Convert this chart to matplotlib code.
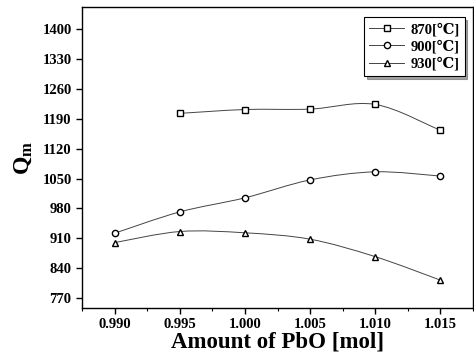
import numpy as np
import matplotlib
matplotlib.use("Agg")
import matplotlib.pyplot as plt
from matplotlib.path import Path
from matplotlib.patches import PathPatch
from matplotlib.lines import Line2D

plt.rcParams['font.family'] = ['Liberation Serif', 'DejaVu Serif']
plt.rcParams['font.weight'] = 'bold'
plt.rcParams['mathtext.fontset'] = 'custom'
plt.rcParams['mathtext.rm'] = 'Liberation Serif:bold'
plt.rcParams['mathtext.bf'] = 'Liberation Serif:bold'

pbo = [0.990, 0.995, 1.000, 1.005, 1.010, 1.015]
x870 = pbo[1:]
q870 = [1203, 1212, 1213, 1224, 1163]
q900 = [922, 972, 1005, 1047, 1066, 1056]
q930 = [900, 926, 923, 908, 867, 812]
labels = ["870[℃]", "900[℃]", "930[℃]"]
markers = ["s", "o", "^"]


def smooth_path(xs, ys):
    # Catmull-Rom -> cubic Bezier through the data points
    p = np.column_stack([xs, ys]).astype(float)
    verts = [p[0]]
    codes = [Path.MOVETO]
    n = len(p)
    for i in range(n - 1):
        p0 = p[i - 1] if i > 0 else p[i]
        p1, p2 = p[i], p[i + 1]
        p3 = p[i + 2] if i + 2 < n else p[i + 1]
        c1 = p1 + (p2 - p0) / 6.0
        c2 = p2 - (p3 - p1) / 6.0
        verts += [c1, c2, p2]
        codes += [Path.CURVE4] * 3
    return Path(verts, codes)


fig = plt.figure(figsize=(4.74, 3.58), dpi=100)
ax = fig.add_axes([0.173, 0.14, 0.825, 0.84])

handles = []
for xs, ys, lab, m in zip([x870, pbo, pbo], [q870, q900, q930], labels, markers):
    ax.add_patch(PathPatch(smooth_path(xs, ys), fc="none", ec="#444444", lw=0.7))
    ax.plot(xs, ys, ls="none", marker=m, ms=4.5, mfc="white", mec="black", mew=1.0, zorder=3)
    handles.append(Line2D([], [], color="#444444", lw=0.7, marker=m, ms=4.5,
                          mfc="white", mec="black", mew=1.0))

ax.set_xlim(0.9877, 1.0173)
ax.set_ylim(747, 1452)
ax.set_xticks(pbo)
ax.set_xticklabels([f"{v:.3f}" for v in pbo])
ax.set_xticks(np.arange(0.9875, 1.0175, 0.0025), minor=True)
ax.set_yticks(np.arange(770, 1401, 70))
ax.tick_params(axis="both", direction="out", length=4, width=1, labelsize=10.5)
ax.tick_params(axis="x", which="minor", direction="out", length=2.5, width=0.8)
ax.tick_params(top=False, right=False)
for s in ax.spines.values():
    s.set_linewidth(1.0)

ax.set_xlabel("Amount of PbO [mol]", fontsize=16.5, fontweight="bold", labelpad=0)
ax.set_ylabel(r"$\mathbf{Q_m}$", fontsize=17, labelpad=6)

leg = ax.legend(handles, labels, loc="upper right", bbox_to_anchor=(0.997, 0.99),
                fontsize=10.5, frameon=True, fancybox=False, shadow=True,
                edgecolor="black", handlelength=2.4, handletextpad=0.4,
                labelspacing=0.25, borderpad=0.35)
leg.get_frame().set_linewidth(0.8)

fig.savefig("out.png", dpi=100)
